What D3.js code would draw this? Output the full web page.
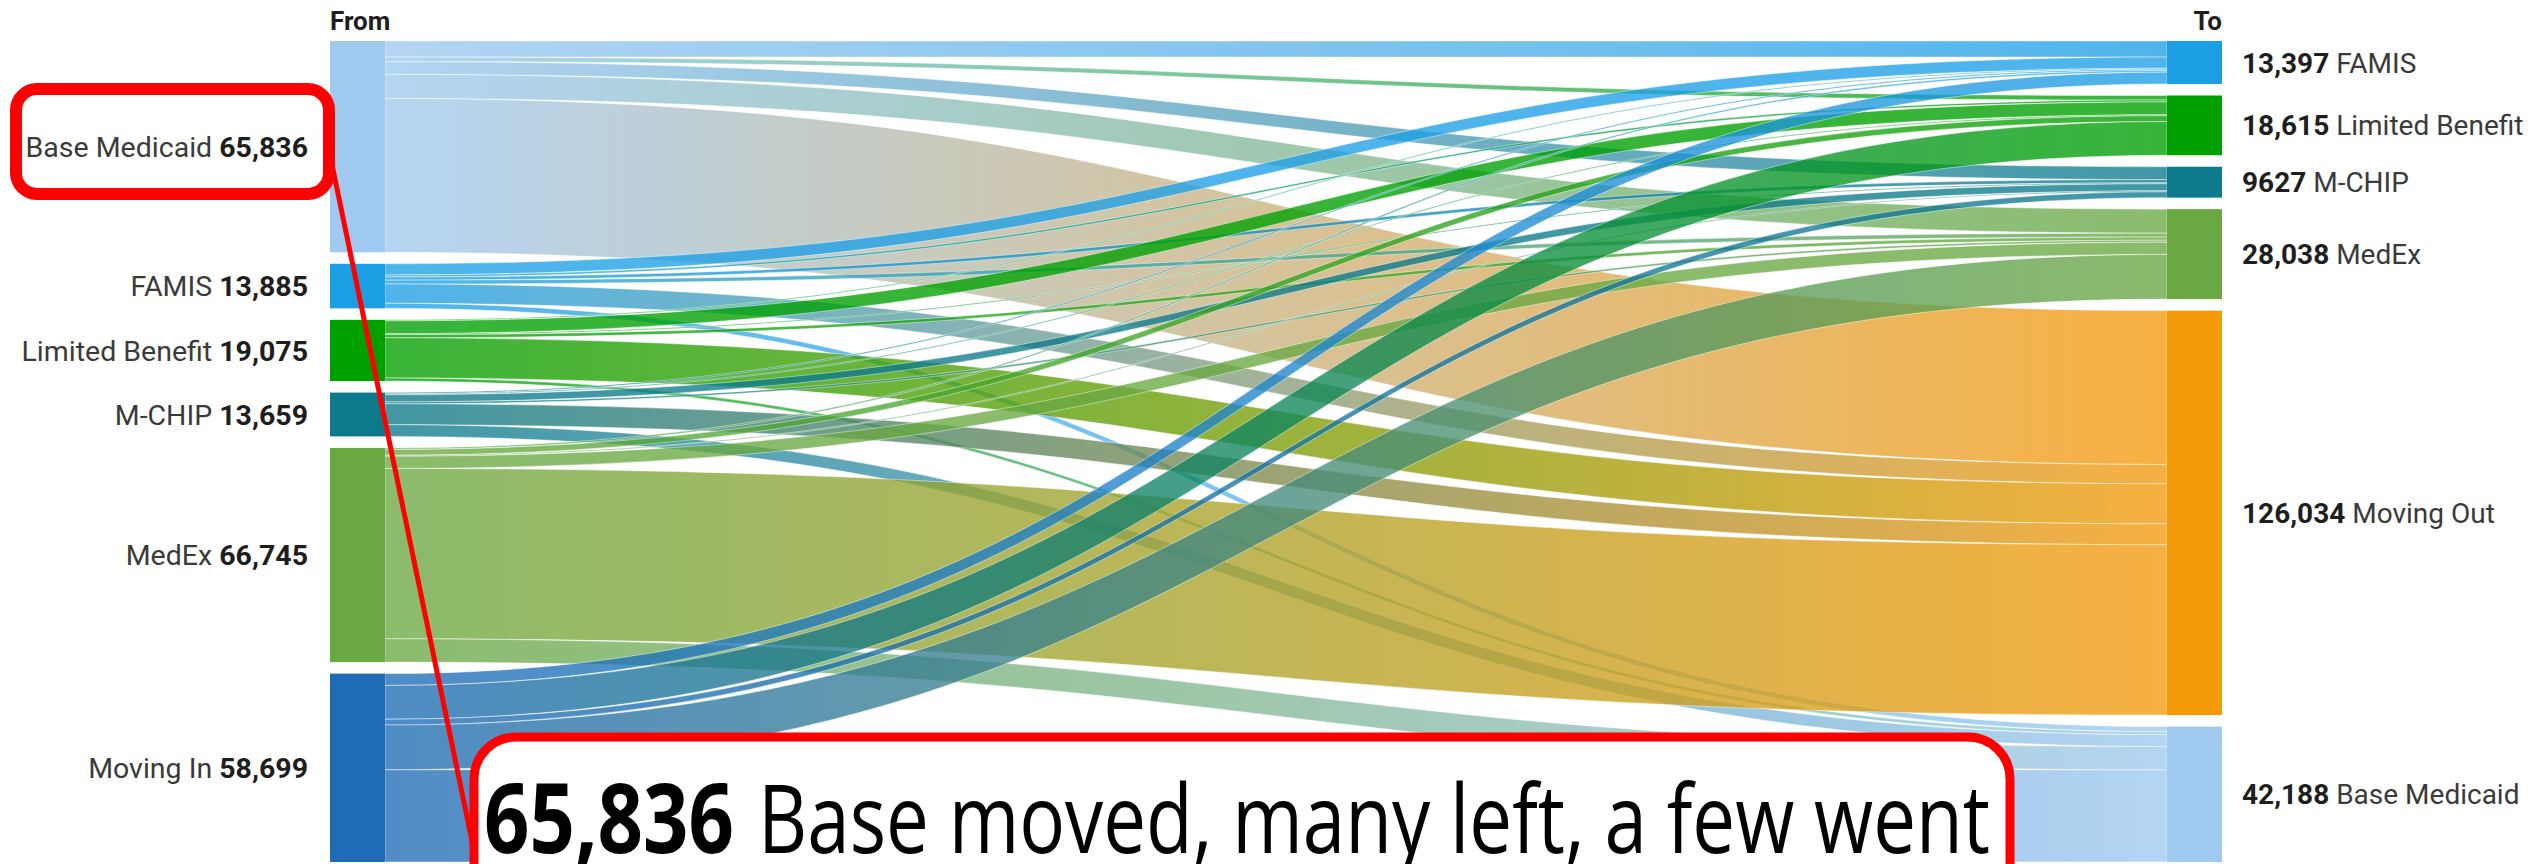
<!DOCTYPE html>
<html>
<head>
<meta charset="utf-8">
<script src="https://cdn.jsdelivr.net/npm/d3@7"></script>
<style>
  html, body { margin: 0; padding: 0; background: #ffffff; }
  svg { display: block; }
</style>
</head>
<body>
<svg id="chart" width="2539" height="864"></svg>
<script>
// Coverage groups on each side, top to bottom
const sourceNames = ["Base Medicaid", "FAMIS", "Limited Benefit", "M-CHIP", "MedEx", "Moving In"];
const targetNames = ["FAMIS", "Limited Benefit", "M-CHIP", "MedEx", "Moving Out", "Base Medicaid"];

// Totals printed beside each bar
const sourceTotals = [65836, 13885, 19075, 13659, 66745, 58699];
const targetTotals = [13397, 18615, 9627, 28038, 126034, 42188];

// Members moving from each "From" group (rows) to each "To" group (columns)
const flowBaseMedicaid  = [5000, 1400, 4000, 7500, 47936, 0];
const flowFAMIS         = [3500, 600, 1000, 1200, 6000, 1585];
const flowLimited       = [300, 4000, 300, 1000, 12500, 975];
const flowMCHIP         = [400, 300, 2200, 600, 6500, 3659];
const flowMedEx         = [500, 1800, 300, 3800, 53098, 7247];
const flowMovingIn      = [3697, 10515, 1827, 13938, 0, 28722];
const flows = [flowBaseMedicaid, flowFAMIS, flowLimited, flowMCHIP, flowMedEx, flowMovingIn];

const sourceColors = ["#9fc9ef", "#1d9fe5", "#00a000", "#0d7a8b", "#6aa842", "#1f6bb5"];
const targetColors = ["#1d9fe5", "#00a000", "#0d7a8b", "#6aa842", "#f59a0b", "#9fc9ef"];

const svg = d3.select("#chart");
const defs = svg.append("defs");

// Layout frame
const yTop = 41, yBottom = 862, nodePad = 11.5;
const leftX0 = 330, nodeW = 55, rightX0 = 2167;
const leftX1 = leftX0 + nodeW, rightX1 = rightX0 + nodeW;

const grand = d3.sum(sourceTotals);
const k = (yBottom - yTop - nodePad * (sourceNames.length - 1)) / grand;
const h = d3.scaleLinear().domain([0, grand]).range([0, k * grand]);

function stack(totals) {
  let y = yTop;
  return totals.map(v => {
    const n = { y0: y, y1: y + h(v), value: v };
    y = n.y1 + nodePad;
    return n;
  });
}
const leftNodes = stack(sourceTotals);
const rightNodes = stack(targetTotals);

// Link geometry: leave each source in target order, arrive at each target in source order
const links = [];
flows.forEach((row, i) => row.forEach((v, j) => {
  if (v > 0) links.push({ s: i, t: j, value: v });
}));
const sOff = leftNodes.map(n => n.y0);
const tOff = rightNodes.map(n => n.y0);
for (let i = 0; i < sourceNames.length; i++) {
  for (let j = 0; j < targetNames.length; j++) {
    const l = links.find(d => d.s === i && d.t === j);
    if (l) { l.sy = sOff[i]; sOff[i] += h(l.value); }
  }
}
for (let j = 0; j < targetNames.length; j++) {
  for (let i = 0; i < sourceNames.length; i++) {
    const l = links.find(d => d.s === i && d.t === j);
    if (l) { l.ty = tOff[j]; tOff[j] += h(l.value); }
  }
}

function ribbon(d) {
  const w = h(d.value);
  const x0 = leftX1, x1 = rightX0, xm = (x0 + x1) / 2;
  const p = d3.path();
  p.moveTo(x0, d.sy);
  p.bezierCurveTo(xm, d.sy, xm, d.ty, x1, d.ty);
  p.lineTo(x1, d.ty + w);
  p.bezierCurveTo(xm, d.ty + w, xm, d.sy + w, x0, d.sy + w);
  p.closePath();
  return p.toString();
}

links.forEach((d, idx) => {
  const g = defs.append("linearGradient")
    .attr("id", "lg" + idx)
    .attr("gradientUnits", "userSpaceOnUse")
    .attr("x1", leftX1).attr("x2", rightX0)
    .attr("y1", 0).attr("y2", 0);
  g.append("stop").attr("offset", "0%").attr("stop-color", sourceColors[d.s]);
  g.append("stop").attr("offset", "100%").attr("stop-color", targetColors[d.t]);
  d.grad = "url(#lg" + idx + ")";
});

svg.append("g").selectAll("path")
  .data(links)
  .join("path")
  .attr("d", ribbon)
  .attr("fill", d => d.grad)
  .attr("fill-opacity", 0.78)
  .attr("stroke", "#ffffff")
  .attr("stroke-opacity", 0.55)
  .attr("stroke-width", 0.8);

// Node bars
svg.append("g").selectAll("rect")
  .data(leftNodes)
  .join("rect")
  .attr("x", leftX0).attr("width", nodeW)
  .attr("y", d => d.y0).attr("height", d => d.y1 - d.y0)
  .attr("fill", (d, i) => sourceColors[i]);

svg.append("g").selectAll("rect")
  .data(rightNodes)
  .join("rect")
  .attr("x", rightX0).attr("width", nodeW)
  .attr("y", d => d.y0).attr("height", d => d.y1 - d.y0)
  .attr("fill", (d, i) => targetColors[i]);

const fmt = v => v >= 10000 ? d3.format(",")(v) : String(v);
const labelFont = "Roboto, 'Noto Sans', sans-serif";

// Left labels: name then bold total
const ll = svg.append("g").attr("font-family", labelFont).attr("font-size", 28.5)
  .selectAll("text").data(leftNodes).join("text")
  .attr("x", 308)
  .attr("y", d => (d.y0 + d.y1) / 2)
  .attr("dy", "0.36em")
  .attr("text-anchor", "end");
ll.append("tspan").attr("fill", "#3a3a3a").text((d, i) => sourceNames[i] + " ");
ll.append("tspan").attr("fill", "#1e1e1e").attr("font-weight", 700).text(d => fmt(d.value));

// Right labels: bold total then name
const rl = svg.append("g").attr("font-family", labelFont).attr("font-size", 28)
  .selectAll("text").data(rightNodes).join("text")
  .attr("x", 2242)
  .attr("y", d => (d.y0 + d.y1) / 2)
  .attr("dy", "0.36em");
rl.append("tspan").attr("fill", "#1e1e1e").attr("font-weight", 700).text(d => fmt(d.value));
rl.append("tspan").attr("fill", "#3a3a3a").text((d, i) => " " + targetNames[i]);

// Column headers
svg.append("text").attr("x", leftX0).attr("y", 30)
  .attr("font-family", labelFont).attr("font-size", 26).attr("font-weight", 700)
  .attr("fill", "#1e1e1e").text("From");
svg.append("text").attr("x", rightX1).attr("y", 30).attr("text-anchor", "end")
  .attr("font-family", labelFont).attr("font-size", 26).attr("font-weight", 700)
  .attr("fill", "#1e1e1e").text("To");

// Callout: highlight box, pointer line and note
const note = svg.append("g");
note.append("rect")
  .attr("x", 16).attr("y", 89).attr("width", 313).attr("height", 105)
  .attr("rx", 21).attr("ry", 21)
  .attr("fill", "none").attr("stroke", "#ff0000").attr("stroke-width", 12);
note.append("line")
  .attr("x1", 329).attr("y1", 150).attr("x2", 478).attr("y2", 870)
  .attr("stroke", "#ff0000").attr("stroke-width", 5);
note.append("rect")
  .attr("x", 474).attr("y", 737).attr("width", 1536).attr("height", 220)
  .attr("rx", 42).attr("ry", 42)
  .attr("fill", "#ffffff").attr("stroke", "#ff0000").attr("stroke-width", 9);

const noteFont = "'Liberation Sans Narrow', 'Open Sans', 'Liberation Sans', sans-serif";
note.append("text")
  .attr("x", 484).attr("y", 853)
  .attr("font-family", noteFont).attr("font-size", 96).attr("font-weight", 700)
  .attr("fill", "#000").attr("textLength", 250).attr("lengthAdjust", "spacingAndGlyphs")
  .text(fmt(sourceTotals[0]));
note.append("text")
  .attr("x", 758).attr("y", 853)
  .attr("font-family", noteFont).attr("font-size", 96)
  .attr("fill", "#000").attr("textLength", 1232).attr("lengthAdjust", "spacingAndGlyphs")
  .text("Base moved, many left, a few went");
</script>
</body>
</html>
